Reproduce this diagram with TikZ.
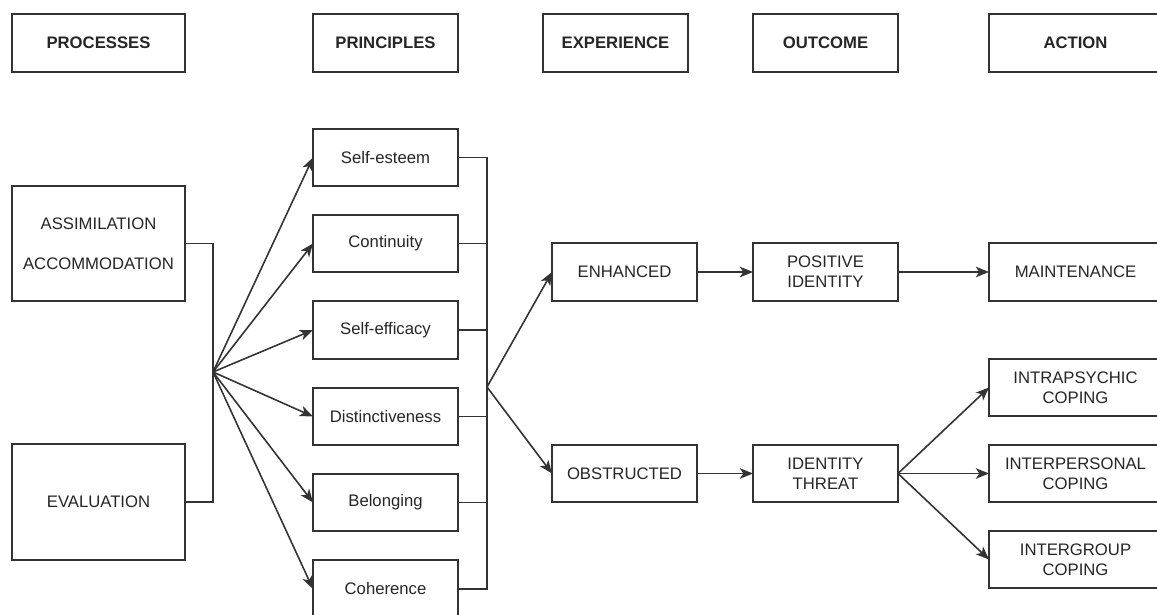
\documentclass[tikz,border=0pt]{standalone}
\usepackage{fontspec}
\setmainfont{Liberation Sans}
\usetikzlibrary{arrows.meta}
\begin{document}
\begin{tikzpicture}[x=0.02cm,y=-0.02cm,
  box/.style={draw=black!80, line width=0.9pt, fill=white, inner sep=0pt, outer sep=0pt, align=center, text=black!85, font=\fontsize{9.5}{11.5}\selectfont},
  hdr/.style={box, font=\fontsize{9.5}{11.5}\selectfont\bfseries, minimum height=1.16cm},
  wide/.style={minimum width=3.46cm},
  narrow/.style={minimum width=2.9cm},
  row/.style={minimum height=1.15cm},
  conn/.style={draw=black!80, line width=0.9pt},
  arr/.style={conn, -{Stealth[length=7.5pt,width=6pt,inset=2pt]}}
]
\useasboundingbox (0,0) rectangle (1157,615);
\fill[white] (0,0) rectangle (1157,615);
\clip (0,0) rectangle (1157,615);

% headers
\node[hdr,wide]   (hproc) at (98.5,43)   {PROCESSES};
\node[hdr,narrow] (hprin) at (385.5,43)  {PRINCIPLES};
\node[hdr,narrow] (hexp)  at (615.5,43)  {EXPERIENCE};
\node[hdr,narrow] (hout)  at (825.5,43)  {OUTCOME};
\node[hdr,wide]   (hact)  at (1075.5,43) {ACTION};

% processes
\node[box,wide,minimum height=2.3cm] (assim) at (98.5,243.5) {ASSIMILATION\\[11pt]ACCOMMODATION};
\node[box,wide,minimum height=2.32cm] (eval) at (98.5,502) {EVALUATION};

% principles
\node[box,narrow,row] (se)   at (385.5,157.5) {Self-esteem};
\node[box,narrow,row] (cont) at (385.5,243.5) {Continuity};
\node[box,narrow,row] (sef)  at (385.5,330)   {Self-efficacy};
\node[box,narrow,row] (dist) at (385.5,416.5) {Distinctiveness};
\node[box,narrow,row] (bel)  at (385.5,502.5) {Belonging};
\node[box,narrow,row] (coh)  at (385.5,589)   {Coherence};

% experience
\node[box,narrow,row] (enh) at (624.5,272)   {ENHANCED};
\node[box,narrow,row] (obs) at (624.5,473.5) {OBSTRUCTED};

% outcome
\node[box,narrow,row] (pos) at (825.5,272)   {POSITIVE\\IDENTITY};
\node[box,narrow,row] (thr) at (825.5,473.5) {IDENTITY\\THREAT};

% action
\node[box,wide,row] (main)  at (1075.5,272)   {MAINTENANCE};
\node[box,wide,row] (intra) at (1075.5,387.5) {INTRAPSYCHIC\\COPING};
\node[box,wide,row] (inter) at (1075.5,473.5) {INTERPERSONAL\\COPING};
\node[box,wide,row] (grp)   at (1075.5,559.5) {INTERGROUP\\COPING};

% left bus and fan
\coordinate (fanL) at (213,372);
\draw[conn] (assim.east) -| (fanL);
\draw[conn] (eval.east) -| (fanL);
\foreach \n in {se,cont,sef,dist,bel,coh} \draw[arr] (fanL) -- (\n.west);

% right bus and fan
\coordinate (fanR) at (487,387);
\foreach \n in {se,cont,sef,dist,bel,coh} \draw[conn] (\n.east) -| (fanR);
\draw[arr] (fanR) -- (enh.west);
\draw[arr] (fanR) -- (obs.west);

% outcome and action arrows
\draw[arr] (enh.east) -- (pos.west);
\draw[arr] (obs.east) -- (thr.west);
\draw[arr] (pos.east) -- (main.west);
\draw[arr] (thr.east) -- (intra.west);
\draw[arr] (thr.east) -- (inter.west);
\draw[arr] (thr.east) -- (grp.west);
\end{tikzpicture}
\end{document}
